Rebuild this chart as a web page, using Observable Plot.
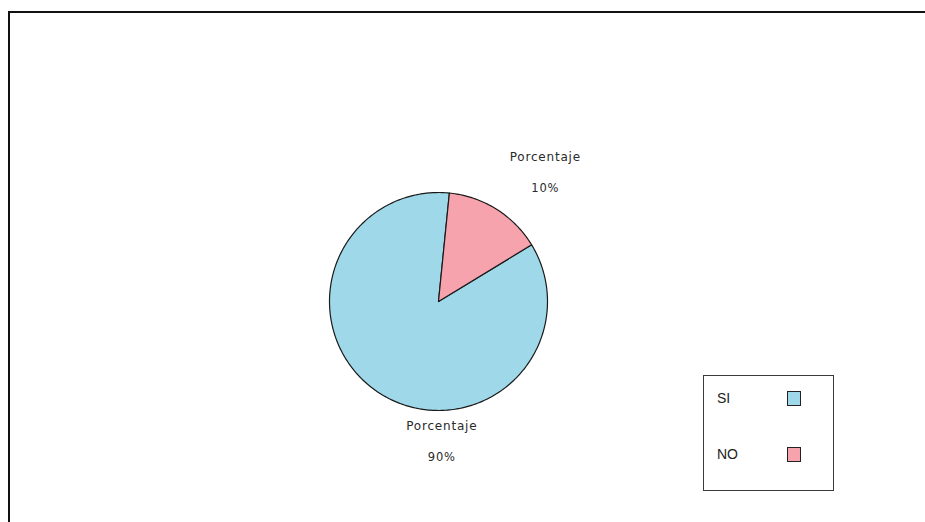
<!DOCTYPE html>
<html>
<head>
<meta charset="utf-8">
<script src="https://cdn.jsdelivr.net/npm/d3@7"></script>
<script src="https://cdn.jsdelivr.net/npm/@observablehq/plot@0.6"></script>
<style>
  html, body { margin: 0; padding: 0; background: #fff; }
  #wrap { position: relative; width: 925px; height: 522px; overflow: hidden; }
  #frame { position: absolute; left: 8px; top: 11px; width: 2000px; height: 2000px;
           border-top: 2px solid #111; border-left: 2px solid #111; box-sizing: border-box; }
  #chart { position: absolute; left: 0; top: 0; }
  #chart text { letter-spacing: 0.8px; }
  #legend { position: absolute; left: 703px; top: 375px; width: 131px; height: 116px;
            border: 1.5px solid #3a3a3a; box-sizing: border-box; background: #fff;
            font-family: "Liberation Sans", Arial, sans-serif; font-size: 14px; color: #222; }
  .row { position: absolute; left: 13px; width: 100px; height: 16px; }
  .row span.t { position: absolute; left: 0; top: 0; line-height: 16px; }
  .row span.s { position: absolute; left: 70px; top: 1px; width: 12px; height: 13px; border: 1px solid #222; }
</style>
</head>
<body>
<div id="wrap">
  <div id="frame"></div>
  <div id="chart"></div>
  <div id="legend"></div>
</div>
<script>
// ---- data ----
const categories = ["SI", "NO"];
const shares = [85.3, 14.7];          // slice sizes as drawn in the picture
const valueLabels = ["90%", "10%"];   // labels printed on the chart
const seriesName = "Porcentaje";
const colors = ["#9fd8e9", "#f6a3ae"];

// ---- build pie geometry via d3.pie ----
const rows = categories.map((c, i) => ({cat: c, share: shares[i], label: valueLabels[i]}));
const pie = d3.pie().value(d => d.share).sortValues(d3.ascending)
  .startAngle(0.1).endAngle(0.1 + 2 * Math.PI);
const arcs = pie(rows);

const verts = [];
for (const a of arcs) {
  verts.push({cat: a.data.cat, x: 0, y: 0});
  const n = Math.max(2, Math.ceil((a.endAngle - a.startAngle) / (Math.PI / 180)));
  for (let k = 0; k <= n; k++) {
    const t = a.startAngle + (a.endAngle - a.startAngle) * k / n;
    verts.push({cat: a.data.cat, x: Math.sin(t), y: Math.cos(t)});
  }
  verts.push({cat: a.data.cat, x: 0, y: 0});
}

// label anchors (layout, in pie-radius units)
const anchor = {SI: {x: 0.03, y1: -1.145, y2: -1.43}, NO: {x: 0.98, y1: 1.32, y2: 1.035}};
const labelRows = rows.map(r => ({...r, x: anchor[r.cat].x, y1: anchor[r.cat].y1, y2: anchor[r.cat].y2}));

const cx = 438, cy = 301, R = 109;

const chart = Plot.plot({
  width: 925,
  height: 522,
  margin: 0,
  style: {background: "transparent", overflow: "visible"},
  x: {domain: [-1, 1], range: [cx - R, cx + R], axis: null},
  y: {domain: [-1, 1], range: [cy + R, cy - R], axis: null},
  color: {domain: categories, range: colors},
  marks: [
    Plot.line(verts, {x: "x", y: "y", z: "cat", fill: "cat", stroke: "#1a1a1a", strokeWidth: 1.2, curve: "linear"}),
    Plot.text(labelRows, {x: "x", y: "y1", text: () => seriesName, fill: "#2a2a2a",
      fontFamily: "DejaVu Sans, sans-serif", fontSize: 12}),
    Plot.text(labelRows, {x: "x", y: "y2", text: "label", fill: "#2a2a2a",
      fontFamily: "DejaVu Sans, sans-serif", fontSize: 11.5})
  ]
});
document.getElementById("chart").appendChild(chart);

// legend built from categories / colors
const legend = document.getElementById("legend");
const rowTops = [14, 70];
categories.forEach((c, i) => {
  const r = document.createElement("div");
  r.className = "row";
  r.style.top = rowTops[i] + "px";
  r.innerHTML = `<span class="t">${c}</span><span class="s" style="background:${colors[i]}"></span>`;
  legend.appendChild(r);
});
</script>
</body>
</html>
